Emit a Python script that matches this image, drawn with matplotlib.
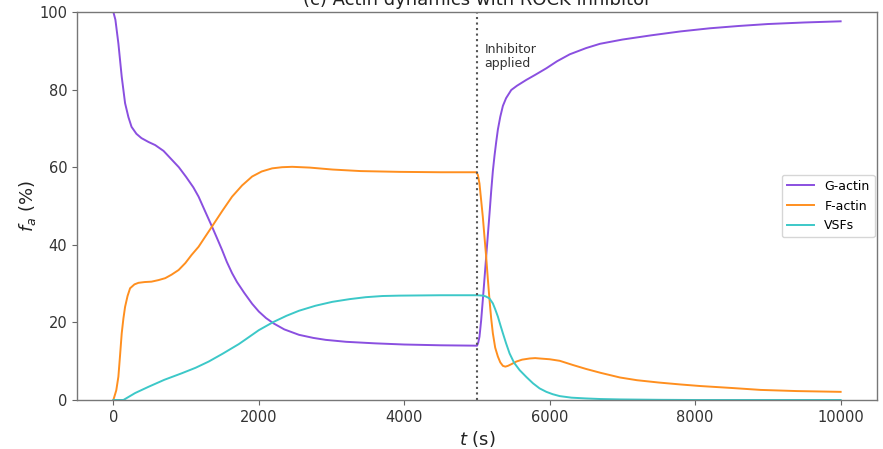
"""Actin dynamics with ROCK inhibitor: G-actin, F-actin and VSF fractions over time."""

import matplotlib

matplotlib.use("Agg")
import matplotlib.pyplot as plt


# values (t in s, fractions in %)
G_ACTIN_T = [0, 28, 69, 115, 161, 207, 250, 317, 386, 483, 575, 690, 800, 900, 1000, 1100,
             1172, 1260, 1356, 1430, 1494, 1560, 1632, 1700, 1800, 1908, 2000, 2100, 2207,
             2350, 2552, 2750, 2920, 3200, 3600, 4000, 4500, 5000, 5017, 5034, 5057, 5080,
             5103, 5126, 5149, 5172, 5195, 5218, 5241, 5264, 5287, 5320, 5356, 5400, 5471,
             5550, 5678, 5800, 5954, 6100, 6276, 6500, 6690, 7000, 7400, 7800, 8200, 8600,
             9000, 9500, 10000]
G_ACTIN = [100, 98.0, 91.9, 83.3, 76.5, 72.9, 70.4, 68.6, 67.5, 66.5, 65.7, 64.2, 62.0, 60.0,
           57.5, 54.8, 52.4, 48.7, 44.7, 41.5, 38.7, 35.6, 32.7, 30.4, 27.6, 24.8, 22.8, 21.1,
           19.7, 18.2, 16.8, 16.0, 15.5, 15.0, 14.6, 14.3, 14.1, 14.0, 14.8, 16.3, 20.5, 25.8,
           31.3, 36.9, 42.5, 48.0, 53.8, 59.0, 63.0, 66.5, 69.7, 73.0, 75.8, 77.8, 79.9,
           81.0, 82.5, 83.8, 85.5, 87.3, 89.1, 90.7, 91.8, 92.9, 94.0, 95.0, 95.8, 96.4,
           96.9, 97.3, 97.6]

F_ACTIN_T = [0, 40, 69, 92, 115, 138, 161, 195, 230, 290, 345, 430, 524, 620, 713, 800, 897,
             990, 1076, 1172, 1260, 1356, 1500, 1632, 1770, 1908, 2040, 2183, 2320, 2459,
             2700, 3011, 3400, 3931, 4500, 4990, 5012, 5034, 5057, 5080, 5103, 5126, 5149,
             5172, 5195, 5218, 5250, 5287, 5320, 5356, 5390, 5425, 5480, 5540, 5620, 5724,
             5800, 5862, 6000, 6138, 6322, 6500, 6700, 6966, 7200, 7500, 7800, 8070, 8500,
             8900, 9400, 10000]
F_ACTIN = [0, 2.5, 6.0, 11.5, 17.2, 21.0, 24.0, 26.8, 28.8, 29.8, 30.2, 30.4, 30.5, 30.9, 31.4,
           32.3, 33.5, 35.3, 37.4, 39.5, 42.0, 44.7, 48.8, 52.4, 55.3, 57.6, 58.9, 59.7, 60.0,
           60.1, 59.9, 59.4, 59.0, 58.8, 58.7, 58.7, 58.0, 55.8, 51.5, 47.2, 42.0, 36.9, 31.2,
           25.8, 21.0, 17.2, 13.5, 11.2, 9.7, 8.8, 8.6, 8.8, 9.3, 9.9, 10.4, 10.7,
           10.8, 10.7, 10.5, 10.1, 9.0, 8.0, 7.0, 5.8, 5.1, 4.5, 4.0, 3.6, 3.1,
           2.6, 2.3, 2.1]

VSF_T = [0, 138, 300, 483, 700, 942, 1130, 1310, 1500, 1724, 1817, 2000, 2200, 2380, 2552,
         2780, 3011, 3250, 3471, 3700, 3931, 4500, 5000, 5080, 5120, 5170, 5218, 5250, 5287,
         5320, 5356, 5400, 5448, 5510, 5586, 5680, 5770, 5860, 5954, 6040, 6138, 6300, 6500,
         6700, 6966, 7500, 8000, 10000]
VSF = [0, 0, 1.8, 3.4, 5.2, 6.9, 8.3, 9.9, 11.9, 14.4, 15.6, 18.0, 20.1, 21.7, 23.0,
       24.3, 25.3, 26.0, 26.5, 26.8, 26.9, 27.0, 27.0, 26.9, 26.7, 26.2, 24.9, 23.4, 21.5,
       19.4, 17.2, 14.6, 12.0, 9.6, 7.7, 5.9, 4.3, 3.0, 2.1, 1.5, 1.0, 0.6, 0.4,
       0.25, 0.15, 0.05, 0.0, 0.0]

INHIBITOR_T = 5000
SERIES_LABELS = ["G-actin", "F-actin", "VSFs"]
COLORS = ["#8a4fe0", "#ff8f1f", "#3cc8c8"]


def main():
    fig = plt.figure(figsize=(8.83, 4.49), dpi=100)
    axis = fig.add_axes([77 / 883, 49 / 449, 800 / 883, 388 / 449])

    axis.plot(G_ACTIN_T, G_ACTIN, color=COLORS[0], linewidth=1.4, label=SERIES_LABELS[0])
    axis.plot(F_ACTIN_T, F_ACTIN, color=COLORS[1], linewidth=1.4, label=SERIES_LABELS[1])
    axis.plot(VSF_T, VSF, color=COLORS[2], linewidth=1.4, label=SERIES_LABELS[2])

    axis.axvline(INHIBITOR_T, color="#555555", linestyle=":", linewidth=1.5)
    axis.text(INHIBITOR_T + 100, 92, "Inhibitor\napplied", fontsize=9, color="#333333",
              va="top", ha="left", linespacing=1.1)

    axis.set_xlim(-500, 10500)
    axis.set_ylim(0, 100)
    axis.set_xticks([0, 2000, 4000, 6000, 8000, 10000])
    axis.set_yticks([0, 20, 40, 60, 80, 100])
    axis.tick_params(labelsize=10.5, colors="#666666", labelcolor="#333333")
    for spine in axis.spines.values():
        spine.set_color("#777777")
        spine.set_linewidth(1.0)

    axis.set_xlabel("$t$ (s)", fontsize=13, color="#222222", labelpad=3)
    axis.set_ylabel("$f_a$ (%)", fontsize=13, color="#222222", labelpad=1)
    axis.set_title("(c) Actin dynamics with ROCK inhibitor", fontsize=13, color="#222222", pad=5)
    axis.legend(loc="center right", fontsize=9, handlelength=2.2, labelspacing=0.55,
                borderaxespad=0.2)

    fig.savefig("out.png", dpi=100)
    plt.close(fig)


if __name__ == "__main__":
    main()
